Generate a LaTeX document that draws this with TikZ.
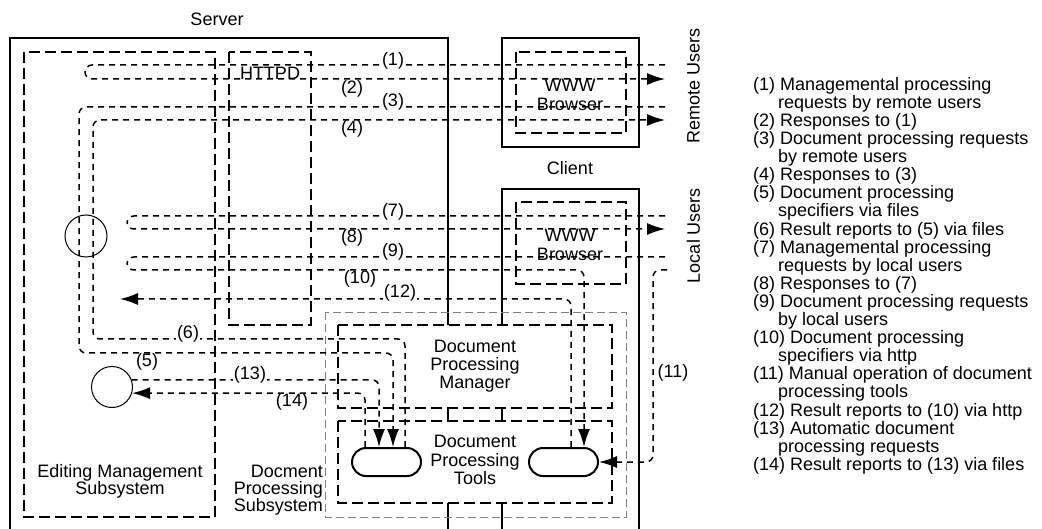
\documentclass[tikz,border=0pt]{standalone}
\usepackage{fontspec}
\setmainfont{Liberation Sans}
\usetikzlibrary{arrows.meta}
\tikzstyle{frame}=[line width=2pt]
\tikzstyle{subsys}=[line width=2pt, dash pattern=on 11pt off 5pt]
\tikzstyle{flow}=[line width=1.5pt, dash pattern=on 6pt off 5pt, rounded corners=7pt, -{Latex[length=18pt,width=12pt]}]
\tikzstyle{num}=[inner sep=1pt]
\tikzstyle{numon}=[num, fill=white]
\tikzstyle{tool}=[draw, line width=2pt, rounded corners=14pt, minimum width=69pt, minimum height=28pt, inner sep=0pt]
\tikzstyle{spot}=[circle, draw, line width=1pt, inner sep=0pt]
\tikzstyle{txt}=[align=center, inner sep=0pt]

\begin{document}
\begin{tikzpicture}[x=1pt, y=-1pt, font=\fontsize{18}{17.5}\selectfont]
    \useasboundingbox (0,0) rectangle (1042,529);
    \coordinate (r1) at (665,65);
    \coordinate (r2) at (665,79);
    \coordinate (r3) at (665,107);
    \coordinate (r4) at (665,120);
    \coordinate (l7) at (665,216);
    \coordinate (l8) at (665,229);
    \coordinate (l9) at (665,257);
    \coordinate (l11) at (667,270);
    \coordinate (l12) at (120,299);
    \draw[frame] (448,325) -- (448,38) -- (10,38) -- (10,529);
    \draw[frame] (448,408) -- (448,421) (448,503) -- (448,529);
    \draw[frame] (502,325) -- (502,189) -- (639,189) -- (639,529);
    \draw[frame] (502,408) -- (502,421) (502,503) -- (502,529);
    \draw[frame] (502,38) rectangle (639,147);
    \draw[subsys] (516,52) rectangle (626,133);
    \draw[subsys] (516,202) rectangle (626,284);
    \draw[subsys] (24,52) rectangle (215,517);
    \draw[subsys] (229,52) rectangle (311,325);
    \draw[gray, line width=0.8pt, dash pattern=on 8pt off 4pt] (325,312) rectangle (626,517);
    \draw[subsys] (338,325) rectangle (612,408);
    \draw[subsys] (338,421) rectangle (612,503);
    \node (server) at (217,19) {Server};
    \node (client) at (570,168) {Client};
    \node (httpd) at (270,73) {HTTPD};
    \node[txt, font=\fontsize{18}{19}\selectfont] (www1) at (570,95) {WWW\\Browser};
    \node[txt, font=\fontsize{18}{19}\selectfont] (www2) at (570,245) {WWW\\Browser};
    \node[txt, font=\fontsize{18}{17}\selectfont] (ems) at (120,481) {Editing Management\\Subsystem};
    \node[txt, align=right, anchor=east, font=\fontsize{18}{17}\selectfont] (dps) at (323,490) {Docment\\Processing\\Subsystem};
    \node[txt, font=\fontsize{18}{18}\selectfont] (dpm) at (475,366) {Document\\Processing\\Manager};
    \node[txt, font=\fontsize{18}{18.5}\selectfont] (dpt) at (475,460) {Document\\Processing\\Tools};
    \node[tool] (toolA) at (386.5,462) {};
    \node[tool] (toolB) at (563.5,462) {};
    \node[spot, minimum size=42pt] (edit) at (86,236) {};
    \node[spot, minimum size=41pt] (files) at (112,387) {};
    \node[rotate=90] (remote) at (693.5,85.5) {Remote Users};
    \node[rotate=90] (local) at (693.5,235.5) {Local Users};
    \draw[flow] (r1) -- (85,65) -- (85,79) -- (r2);
    \draw[flow] (r3) -- (79,107) -- (79,353) -- (393,353) -- (393,0 |- toolA.north);
    \draw[flow] (405,0 |- toolA.north) -- (405,339) -- (93,339) -- (93,120) -- (r4);
    \draw[flow] (l7) -- (127,216) -- (127,229) -- (l8);
    \draw[flow] (l9) -- (127,257) -- (127,270) -- (584,270) -- (584,0 |- toolB.north);
    \draw[flow] (l11) -- (653,270) -- (653,462) -- (toolB.east);
    \draw[flow] (571,0 |- toolB.north) -- (571,299) -- (l12);
    \draw[flow] (files.20) -- (files.20 -| 379,0) -- (379,0 |- toolA.north);
    \draw[flow] (365,0 |- toolA.north) -- (365,0 |- files.-17) -- (files.-17);
    \node[numon] (n1) at (393,61) {(1)};
    \node[num] (n2) at (352,89) {(2)};
    \node[numon] (n3) at (393,102) {(3)};
    \node[num] (n4) at (352,129) {(4)};
    \node[num] (n5) at (147,362) {(5)};
    \node[numon] (n6) at (188,334) {(6)};
    \node[numon] (n7) at (393,212) {(7)};
    \node[num] (n8) at (352,238) {(8)};
    \node[numon] (n9) at (393,252) {(9)};
    \node[num] (n10) at (360,279) {(10)};
    \node[num] (n11) at (673,373) {(11)};
    \node[numon] (n12) at (400,293) {(12)};
    \node[numon] (n13) at (250,375) {(13)};
    \node[num] (n14) at (292,402) {(14)};
    \node[anchor=north west, align=left, inner sep=0pt, font=\fontsize{18}{18.1}\selectfont] (legend) at (753,77) {(1) Managemental processing\\
        \hspace*{25pt}requests by remote users\\
        (2) Responses to (1)\\
        (3) Document processing requests\\
        \hspace*{25pt}by remote users\\
        (4) Responses to (3)\\
        (5) Document processing\\
        \hspace*{25pt}specifiers via files\\
        (6) Result reports to (5) via files\\
        (7) Managemental processing\\
        \hspace*{25pt}requests by local users\\
        (8) Responses to (7)\\
        (9) Document processing requests\\
        \hspace*{25pt}by local users\\
        (10) Document processing\\
        \hspace*{25pt}specifiers via http\\
        (11) Manual operation of document\\
        \hspace*{25pt}processing tools\\
        (12) Result reports to (10) via http\\
        (13) Automatic document\\
        \hspace*{25pt}processing requests\\
        (14) Result reports to (13) via files};
\end{tikzpicture}
\end{document}
